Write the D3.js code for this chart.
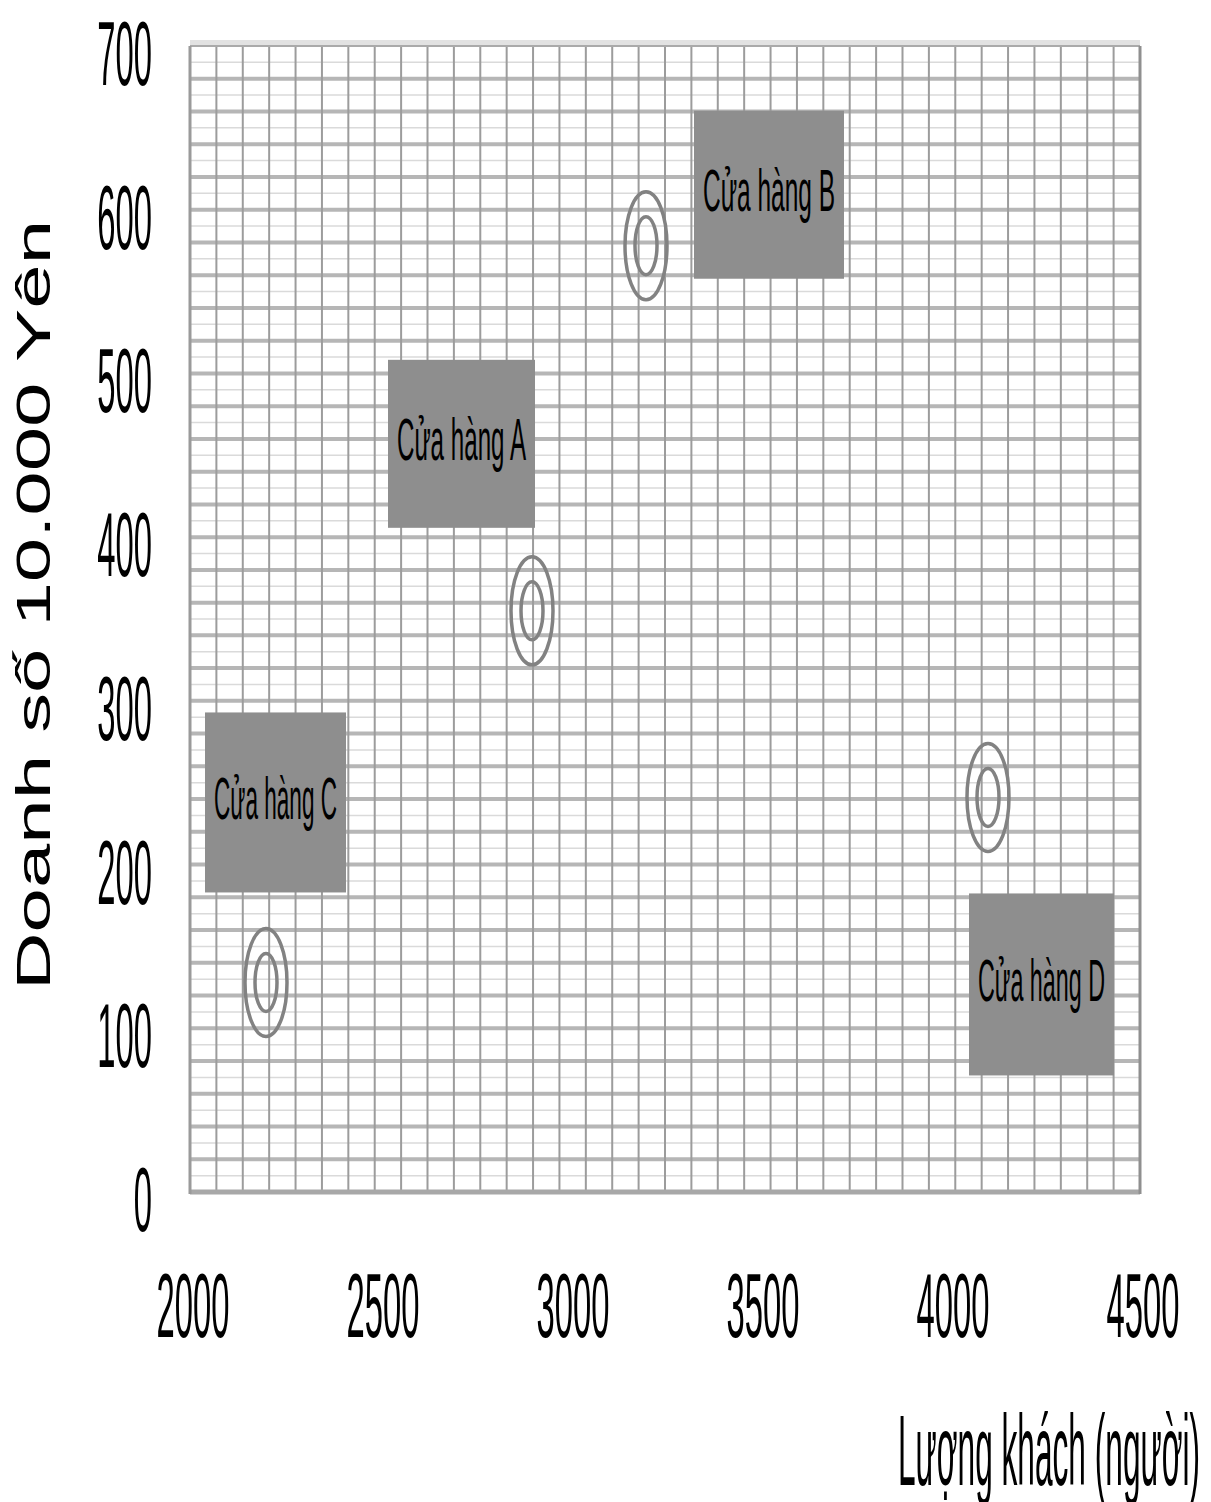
<!DOCTYPE html>
<html>
<head>
<meta charset="utf-8">
<script src="https://cdn.jsdelivr.net/npm/d3@7"></script>
<style>
  html, body { margin: 0; padding: 0; background: #fff; }
  svg { display: block; }
  text { font-family: "Liberation Sans", Arial, sans-serif; fill: #000; }
</style>
</head>
<body>
<script>
// Store data: visitor count (people) vs. sales (10,000 yen)
const stores   = ["Cửa hàng A", "Cửa hàng B", "Cửa hàng C", "Cửa hàng D"];
const visitors = [2900, 3200, 2200, 4100];
const sales    = [355, 578, 128, 241];

const xTicks = [2000, 2500, 3000, 3500, 4000, 4500];
const yTicks = [0, 100, 200, 300, 400, 500, 600, 700];

// Label box placement relative to each point (pixels)
const labelBoxes = [
  { dx: -144, dy: -251, w: 147, h: 168 },
  { dx: 48,   dy: -135, w: 150, h: 168 },
  { dx: -61,  dy: -270, w: 141, h: 180 },
  { dx: -19,  dy: 96,   w: 145, h: 182 }
];

const W = 1211, H = 1502;
const plot = { left: 190, right: 1140, top: 46, bottom: 1192 };

const svg = d3.select("body").append("svg")
  .attr("width", W).attr("height", H);

const x = d3.scaleLinear().domain([2000, 4500]).range([plot.left, plot.right]);
const y = d3.scaleLinear().domain([0, 700]).range([plot.bottom, plot.top]);

// light band above the plot frame
svg.append("rect")
  .attr("x", plot.left).attr("y", plot.top - 6)
  .attr("width", plot.right - plot.left).attr("height", 5)
  .attr("fill", "#e2e2e2");

const grid = svg.append("g");

// minor horizontal lines every 10
grid.selectAll("line.hminor")
  .data(d3.range(10, 700, 20))
  .join("line")
  .attr("x1", plot.left).attr("x2", plot.right)
  .attr("y1", d => y(d)).attr("y2", d => y(d))
  .attr("stroke", "#dadada").attr("stroke-width", 1.5);

// major horizontal bands every 20
grid.selectAll("line.hmajor")
  .data(d3.range(20, 700, 20))
  .join("line")
  .attr("x1", plot.left).attr("x2", plot.right)
  .attr("y1", d => y(d)).attr("y2", d => y(d))
  .attr("stroke", "#b6b6b6").attr("stroke-width", 4);

// vertical lines: 36 columns across the axis range
const xGrid = d3.range(1, 36).map(i => 2000 + i * 2500 / 36);
grid.selectAll("line.v")
  .data(xGrid)
  .join("line")
  .attr("x1", d => x(d)).attr("x2", d => x(d))
  .attr("y1", plot.top).attr("y2", plot.bottom)
  .attr("stroke", "#9c9c9c").attr("stroke-width", 2);

// frame
svg.append("line").attr("x1", plot.left).attr("x2", plot.right)
  .attr("y1", plot.top).attr("y2", plot.top)
  .attr("stroke", "#aaaaaa").attr("stroke-width", 2);
svg.append("line").attr("x1", plot.left).attr("x2", plot.right)
  .attr("y1", plot.bottom).attr("y2", plot.bottom)
  .attr("stroke", "#a8a8a8").attr("stroke-width", 5);
svg.append("line").attr("x1", plot.left).attr("x2", plot.left)
  .attr("y1", plot.top).attr("y2", plot.bottom + 2)
  .attr("stroke", "#9a9a9a").attr("stroke-width", 3);
svg.append("line").attr("x1", plot.right).attr("x2", plot.right)
  .attr("y1", plot.top).attr("y2", plot.bottom + 2)
  .attr("stroke", "#8f8f8f").attr("stroke-width", 3);

// y tick labels (condensed digits)
svg.append("g").selectAll("g")
  .data(yTicks)
  .join("g")
  .attr("transform", d => `translate(152,${y(d) + 7}) scale(0.36,1)`)
  .append("text")
  .attr("text-anchor", "end")
  .attr("dominant-baseline", "central")
  .attr("font-size", 91)
  .text(d => d);

// x tick labels
svg.append("g").selectAll("g")
  .data(xTicks)
  .join("g")
  .attr("transform", d => `translate(${x(d) + 3},1305) scale(0.36,1)`)
  .append("text")
  .attr("text-anchor", "middle")
  .attr("dominant-baseline", "central")
  .attr("font-size", 91)
  .text(d => d);

// axis titles
svg.append("text")
  .attr("transform", "translate(33,605) rotate(-90)")
  .attr("text-anchor", "middle")
  .attr("dominant-baseline", "central")
  .attr("font-size", 49)
  .attr("textLength", 770)
  .attr("lengthAdjust", "spacingAndGlyphs")
  .text("Doanh số 10.000 Yên");

svg.append("text")
  .attr("x", 898).attr("y", 1485)
  .attr("font-size", 100)
  .attr("textLength", 302)
  .attr("lengthAdjust", "spacingAndGlyphs")
  .text("Lượng khách (người)");

const points = stores.map((s, i) => ({
  name: s, vx: visitors[i], vy: sales[i], box: labelBoxes[i]
}));

// label boxes
const labels = svg.append("g").selectAll("g")
  .data(points)
  .join("g")
  .attr("transform", d => `translate(${x(d.vx) + d.box.dx},${y(d.vy) + d.box.dy})`);

labels.append("rect")
  .attr("width", d => d.box.w)
  .attr("height", d => d.box.h)
  .attr("fill", "#8e8e8e");

labels.append("text")
  .attr("x", d => d.box.w / 2)
  .attr("y", d => d.box.h / 2 - 4)
  .attr("text-anchor", "middle")
  .attr("dominant-baseline", "central")
  .attr("font-size", 60)
  .attr("textLength", d => d.box.w - 18)
  .attr("lengthAdjust", "spacingAndGlyphs")
  .text(d => d.name);

// concentric ring markers
const marks = svg.append("g").selectAll("g")
  .data(points)
  .join("g")
  .attr("transform", d => `translate(${x(d.vx)},${y(d.vy)})`);

marks.append("ellipse")
  .attr("rx", 21).attr("ry", 54)
  .attr("fill", "none").attr("stroke", "#828282").attr("stroke-width", 3.5);
marks.append("ellipse")
  .attr("rx", 11).attr("ry", 29)
  .attr("fill", "none").attr("stroke", "#828282").attr("stroke-width", 3.5);
</script>
</body>
</html>
